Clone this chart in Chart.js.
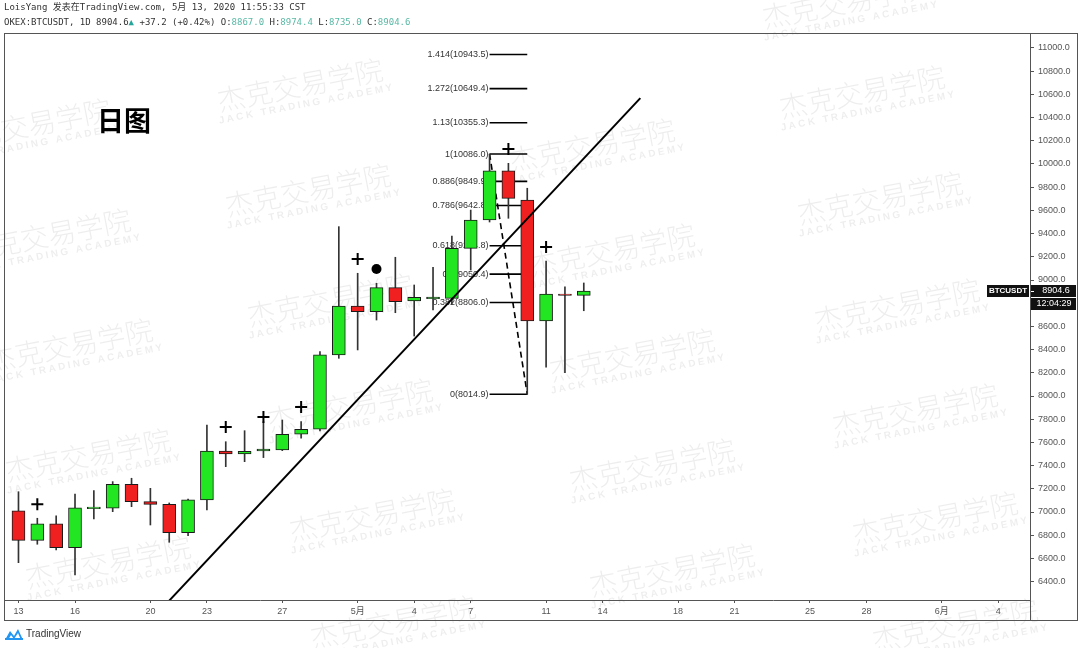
<!DOCTYPE html>
<html>
<head>
<meta charset="utf-8">
<script src="https://cdn.jsdelivr.net/npm/chart.js@4.4.1/dist/chart.umd.min.js"></script>
<style>
html,body{margin:0;padding:0;background:#fff;}
#wrap{width:1080px;height:648px;position:relative;}
</style>
</head>
<body>
<div id="wrap"><canvas id="c" width="1080" height="648"></canvas></div>
<script>
// ---------- DATA ----------
const candleDates = ['2020-04-13','2020-04-14','2020-04-15','2020-04-16','2020-04-17','2020-04-18','2020-04-19','2020-04-20','2020-04-21','2020-04-22','2020-04-23','2020-04-24','2020-04-25','2020-04-26','2020-04-27','2020-04-28','2020-04-29','2020-04-30','2020-05-01','2020-05-02','2020-05-03','2020-05-04','2020-05-05','2020-05-06','2020-05-07','2020-05-08','2020-05-09','2020-05-10','2020-05-11','2020-05-12','2020-05-13'];
const openVals  = [7011,6756,6897,6692,7028,7032,7239,7089,7066,6822,7104,7526,7500,7526,7535,7670,7713,8354,8776,8727,8934,8819,8838,8842,9273,9517,9942,9690,8647,8879,8867.0];
const highVals  = [7175,6946,6968,7155,7184,7262,7291,7204,7078,7112,7750,7606,7701,7779,7793,7779,8382,9460,9058,8972,9196,8957,9110,9379,9603,10086,10006,9791,9164,8942,8974.4];
const lowVals   = [6563,6722,6673,6457,6940,7003,7046,6888,6739,6796,7017,7391,7434,7469,7529,7636,7698,8325,8397,8655,8718,8517,8741,8790,9086,9500,9532,8014.9,8248,8201,8735.0];
const closeVals = [6756,6897,6692,7037,7042,7239,7089,7066,6822,7104,7526,7500,7524,7543,7670,7713,8354,8776,8727,8934,8813,8851,8852,9273,9517,9942,9704,8647,8879,8867,8904.6];

// x-axis tick positions (days after Apr 13) and labels
const xTickDays   = [0,3,7,10,14,18,21,24,28,31,35,38,42,45,49,52];
const xTickLabels = ['13','16','20','23','27','5月','4','7','11','14','18','21','25','28','6月','4'];
// y-axis ticks
const yTickVals = [6400,6600,6800,7000,7200,7400,7600,7800,8000,8200,8400,8600,8800,9000,9200,9400,9600,9800,10000,10200,10400,10600,10800,11000];

// Fibonacci levels
const fibRatios = ['0','0.382','0.5','0.618','0.786','0.886','1','1.13','1.272','1.414'];
const fibPrices = [8014.9,8806.0,9050.4,9294.8,9642.8,9849.9,10086.0,10355.3,10649.4,10943.5];
const fibFromDate = '2020-05-08';
const fibToDate   = '2020-05-10';

// Trend line end points
const trendDates  = ['2020-04-21','2020-05-16'];
const trendPrices = [6236,10568];

// markers
const plusDates  = ['2020-04-14','2020-04-24','2020-04-26','2020-04-28','2020-05-01','2020-05-09','2020-05-11'];
const plusPrices = [7067,7733,7819,7905,9181,10129,9284];
const dotDates   = ['2020-05-02'];
const dotPrices  = [9095];

const lastPrice = 8904.6;

// ---------- helpers ----------
const base = Date.UTC(2020,3,13);
function dayOf(s){const p=s.split('-');return Math.round((Date.UTC(+p[0],+p[1]-1,+p[2])-base)/864e5);}

const GREEN='#22e622', RED='#f02020';
const bodyData = candleDates.map((d,i)=>({x:dayOf(d), y:[openVals[i], closeVals[i]]}));
const wickData = candleDates.map((d,i)=>({x:dayOf(d), y:[lowVals[i], highVals[i]]}));
const bodyColors = candleDates.map((d,i)=> closeVals[i]>=openVals[i]?GREEN:RED);

const datasets = [];
fibPrices.forEach((p,i)=>{
  datasets.push({type:'line', data:[{x:dayOf(fibFromDate),y:p},{x:dayOf(fibToDate),y:p}], borderColor:'#000', borderWidth:1.6, pointRadius:0, order:10});
});
datasets.push({type:'line', data:[{x:dayOf(fibFromDate),y:fibPrices[6]},{x:dayOf(fibToDate),y:fibPrices[0]}], borderColor:'#000', borderWidth:1.6, borderDash:[6,4], pointRadius:0, order:9});
datasets.push({type:'bar', data:wickData, backgroundColor:'#333', borderWidth:0, barThickness:1, grouped:false, order:6});
datasets.push({type:'bar', data:bodyData, backgroundColor:bodyColors, borderColor:'#1a1a1a', borderWidth:1, borderSkipped:false, barThickness:13, grouped:false, order:5});
datasets.push({type:'line', data:trendDates.map((d,i)=>({x:dayOf(d),y:trendPrices[i]})), borderColor:'#000', borderWidth:2, pointRadius:0, order:2});
datasets.push({type:'line', showLine:false, data:plusDates.map((d,i)=>({x:dayOf(d),y:plusPrices[i]})), pointStyle:'cross', pointRadius:6, borderColor:'#000', pointBorderWidth:2, pointBackgroundColor:'#000', order:1});
datasets.push({type:'line', showLine:false, data:dotDates.map((d,i)=>({x:dayOf(d),y:dotPrices[i]})), pointStyle:'circle', pointRadius:5, borderColor:'#000', pointBackgroundColor:'#000', pointBorderWidth:0, order:1});

// ---------- plugins ----------
const bgPlugin = {
  id:'bg',
  beforeDraw(chart){
    const ctx=chart.ctx;
    ctx.save();
    ctx.fillStyle='#fff';ctx.fillRect(0,0,chart.width,chart.height);
    const marks=[[845,2],[300,85],[862,92],[28,125],[592,145],[308,190],[880,198],[48,235],[612,250],[330,300],[897,305],[70,345],[632,355],[350,405],[915,410],[88,455],[652,465],[372,515],[935,518],[108,562],[672,570],[393,622],[955,625]];
    ctx.fillStyle='rgba(0,0,0,0.07)';
    marks.forEach(([x,y])=>{
      ctx.save();
      ctx.translate(x,y);
      ctx.rotate(-0.19);
      ctx.font='300 28px "Noto Sans CJK SC"';
      ctx.textAlign='center';ctx.textBaseline='middle';
      ctx.fillText('杰克交易学院',0,0);
      ctx.font='bold 10px "Liberation Sans"';
      try{ctx.letterSpacing='2.5px';}catch(e){}
      ctx.fillText('JACK TRADING ACADEMY',3,20);
      try{ctx.letterSpacing='0px';}catch(e){}
      ctx.restore();
    });
    ctx.restore();
  },
  beforeDatasetsDraw(chart){
    const ctx=chart.ctx, xs=chart.scales.x, ys=chart.scales.y;
    ctx.save();
    ctx.fillStyle='#333';
    ctx.font='9px "Liberation Sans"';
    ctx.textAlign='right';ctx.textBaseline='middle';
    const xl = xs.getPixelForValue(dayOf(fibFromDate))-1;
    fibPrices.forEach((p,i)=>{
      ctx.fillText(fibRatios[i]+'('+p.toFixed(1)+')', xl, ys.getPixelForValue(p));
    });
    ctx.fillStyle='#000';
    ctx.font='bold 27px "Noto Sans CJK SC"';
    ctx.textAlign='left';
    ctx.fillText('日图',97,121);
    ctx.restore();
  },
  afterDraw(chart){
    const ctx=chart.ctx, ys=chart.scales.y, a=chart.chartArea;
    ctx.save();
    ctx.strokeStyle='#555';ctx.lineWidth=1;
    ctx.strokeRect(4.5,33.5,1073,587);
    ctx.beginPath();
    ctx.moveTo(a.right+0.5,33);ctx.lineTo(a.right+0.5,621);
    ctx.moveTo(4,a.bottom+0.5);ctx.lineTo(a.right,a.bottom+0.5);
    ctx.stroke();
    const py=Math.round(ys.getPixelForValue(lastPrice));
    ctx.fillStyle='#111';
    ctx.fillRect(987,py-6,42,12);
    ctx.fillRect(1031,py-6,45,12);
    ctx.fillRect(1031,py+7,45,12);
    ctx.fillStyle='#fff';
    ctx.font='bold 8px "Liberation Sans"';
    ctx.textAlign='center';ctx.textBaseline='middle';
    ctx.fillText('BTCUSDT',1008,py);
    ctx.font='9px "Liberation Sans"';
    ctx.fillText(lastPrice.toFixed(1),1056,py);
    ctx.fillText('12:04:29',1054,py+13);
    ctx.fillRect(1031,py,3,1);
    ctx.textAlign='left';ctx.textBaseline='middle';
    ctx.font='9px "DejaVu Sans Mono", "Noto Sans CJK SC"';
    ctx.fillStyle='#333';
    ctx.fillText('LoisYang 发表在TradingView.com, 5月 13, 2020 11:55:33 CST',4,8);
    const segs=[['OKEX:BTCUSDT, 1D 8904.6','#333'],['▲','#26a69a'],[' +37.2 (+0.42%) O:','#333'],['8867.0','#5ab9a5'],[' H:','#333'],['8974.4','#5ab9a5'],[' L:','#333'],['8735.0','#5ab9a5'],[' C:','#333'],['8904.6','#5ab9a5']];
    let x=4;
    segs.forEach(([t,c])=>{ctx.fillStyle=c;ctx.fillText(t,x,23);x+=ctx.measureText(t).width;});
    ctx.fillStyle='#2196f3';
    ctx.beginPath();
    ctx.moveTo(5,640);ctx.lineTo(10,631);ctx.lineTo(14,636);ctx.lineTo(18,629);ctx.lineTo(23,640);ctx.closePath();
    ctx.fill();
    ctx.fillStyle='#fff';
    ctx.beginPath();ctx.moveTo(8,640);ctx.lineTo(11,635);ctx.lineTo(14,639);ctx.lineTo(18,633);ctx.lineTo(21,640);ctx.closePath();ctx.fill();
    ctx.fillStyle='#2196f3';ctx.fillRect(5,638,18,2);
    ctx.fillStyle='#333';
    ctx.font='10px "Liberation Sans"';
    ctx.fillText('TradingView',26,634);
    ctx.restore();
  }
};

new Chart(document.getElementById('c'),{
  type:'bar',
  data:{datasets},
  options:{
    responsive:false, animation:false, devicePixelRatio:1,
    layout:{padding:{top:33,left:5,right:2,bottom:27}},
    plugins:{legend:{display:false},tooltip:{enabled:false}},
    scales:{
      x:{type:'linear', min:-0.556, max:53.68, offset:false,
        grid:{display:true, drawOnChartArea:false, tickLength:3, color:'#555', offset:false},
        border:{display:false},
        afterBuildTicks(s){s.ticks=xTickDays.map(v=>({value:v}));},
        afterFit(s){s.height=21;},
        ticks:{autoSkip:false, maxRotation:0, color:'#555', padding:3,
          font:{size:9, family:'"Liberation Sans", "Noto Sans CJK SC"'},
          callback:(v,i)=>xTickLabels[i]}
      },
      y:{type:'linear', position:'right', min:6241.4, max:11129.3,
        grid:{display:true, drawOnChartArea:false, tickLength:4, color:'#555'},
        border:{display:false},
        afterBuildTicks(s){s.ticks=yTickVals.map(v=>({value:v}));},
        afterFit(s){s.width=48;},
        ticks:{color:'#555', padding:4, font:{size:9, family:'"Liberation Sans"'},
          callback:(v)=>Number(v).toFixed(1)}
      }
    }
  },
  plugins:[bgPlugin]
});
</script>
</body>
</html>
